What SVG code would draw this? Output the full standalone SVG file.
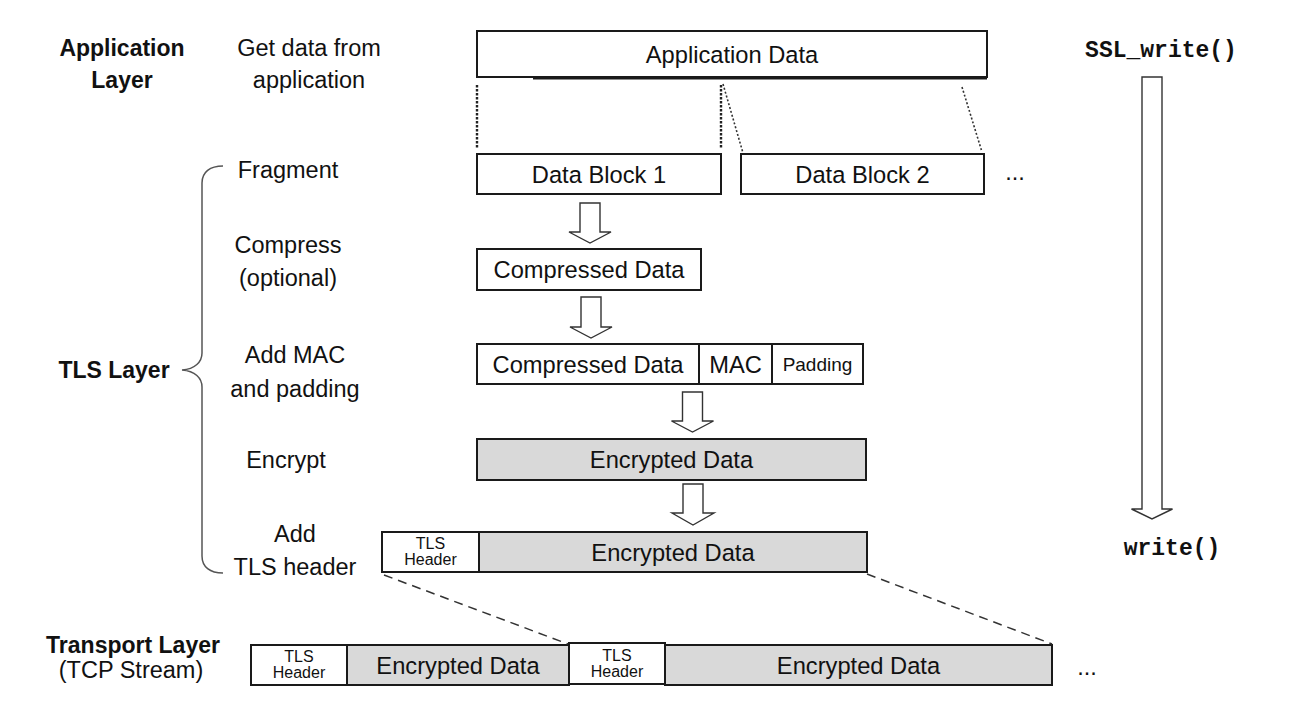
<svg xmlns="http://www.w3.org/2000/svg" width="1306" height="720" viewBox="0 0 1306 720">
<style>
.lbl{font-family:"Liberation Sans",Arial,sans-serif;font-size:23.5px;fill:#111;text-anchor:middle}
.b{font-weight:bold;font-size:23px}
.bt{font-family:"Liberation Sans",Arial,sans-serif;font-size:23.7px;fill:#111;text-anchor:middle}
.sm{font-family:"Liberation Sans",Arial,sans-serif;font-size:16px;fill:#111;text-anchor:middle}
.pad{font-size:19px}
.mono{font-family:"Liberation Mono","Courier New",monospace;font-weight:bold;font-size:23px;fill:#111;text-anchor:middle}
.box{fill:#fff;stroke:#1a1a1a;stroke-width:2}
.enc{fill:#d9d9d9;stroke:#1a1a1a;stroke-width:2}
.blk{fill:#fff;stroke:#333;stroke-width:1.4;stroke-linejoin:miter}
.dot{fill:none;stroke:#333;stroke-width:1.6;stroke-dasharray:2 2}
.dotv{fill:none;stroke:#222;stroke-width:2.4;stroke-dasharray:2.5 1.5}
.dash{fill:none;stroke:#333;stroke-width:1.5;stroke-dasharray:9 6}
.brace{fill:none;stroke:#555;stroke-width:1.5}
</style>
<g id="labels">
<text class="lbl b" x="122" y="56">Application</text>
<text class="lbl b" x="122" y="88">Layer</text>
<text class="lbl" x="309" y="56">Get data from</text>
<text class="lbl" x="309" y="88">application</text>
<text class="lbl" x="288" y="178">Fragment</text>
<text class="lbl" x="288" y="253">Compress</text>
<text class="lbl" x="288" y="286">(optional)</text>
<text class="lbl" x="295" y="363">Add MAC</text>
<text class="lbl" x="295" y="397">and padding</text>
<text class="lbl" x="286" y="468">Encrypt</text>
<text class="lbl" x="295" y="542">Add</text>
<text class="lbl" x="295" y="575">TLS header</text>
<text class="lbl b" x="114" y="378">TLS Layer</text>
<path class="brace" d="M223 166 C210 166 202 172 202 183 L202 353 C202 362 195 369 182 370 C195 371 202 378 202 387 L202 556 C202 567 210 573 223 573"/>
<text class="lbl b" x="133" y="653">Transport Layer</text>
<text class="lbl" x="131" y="678">(TCP Stream)</text>
<text class="mono" x="1161" y="57">SSL_write()</text>
<text class="mono" x="1172" y="555">write()</text>
</g>
<g id="app-data">
<rect class="box" x="477" y="31" width="510" height="46"/>
<line x1="533" y1="78.5" x2="987" y2="78.5" stroke="#1a1a1a" stroke-width="2"/>
<text class="bt" x="732" y="63">Application Data</text>
</g>
<g id="block1">
<rect class="box" x="477" y="154" width="244" height="40"/>
<text class="bt" x="599" y="183">Data Block 1</text>
</g>
<g id="block2">
<rect class="box" x="741" y="154" width="243" height="40"/>
<text class="bt" x="862.5" y="183">Data Block 2</text>
</g>
<g id="dots1"><text class="lbl" x="1015" y="180">...</text></g>
<g id="compressed">
<rect class="box" x="477" y="249" width="224" height="41"/>
<text class="bt" x="589" y="278">Compressed Data</text>
</g>
<g id="mac-row">
<rect class="box" x="477" y="344" width="222" height="40"/>
<rect class="box" x="699" y="344" width="73" height="40"/>
<rect class="box" x="772" y="344" width="91" height="40"/>
<text class="bt" x="588" y="373">Compressed Data</text>
<text class="bt" x="735.5" y="373">MAC</text>
<text class="sm pad" x="817.5" y="371">Padding</text>
</g>
<g id="encrypted">
<rect class="enc" x="477" y="439" width="389" height="41"/>
<text class="bt" x="671.5" y="468">Encrypted Data</text>
</g>
<g id="tls-record">
<rect class="box" x="382" y="532" width="97" height="40"/>
<rect class="enc" x="479" y="532" width="388" height="40"/>
<text class="sm" x="430.5" y="549">TLS</text>
<text class="sm" x="430.5" y="565">Header</text>
<text class="bt" x="673" y="561">Encrypted Data</text>
</g>
<g id="tcp-stream">
<rect class="box" x="251" y="645" width="96" height="40"/>
<rect class="enc" x="347" y="645" width="222" height="40"/>
<rect class="box" x="569" y="643" width="96" height="41"/>
<rect class="enc" x="665" y="645" width="387" height="40"/>
<text class="sm" x="299" y="662">TLS</text>
<text class="sm" x="299" y="678">Header</text>
<text class="bt" x="458" y="674">Encrypted Data</text>
<text class="sm" x="617" y="661">TLS</text>
<text class="sm" x="617" y="677">Header</text>
<text class="bt" x="858.5" y="674">Encrypted Data</text>
</g>
<g id="dots2"><text class="lbl" x="1087" y="675">...</text></g>
<g id="connectors">
<line class="dotv" x1="477" y1="85" x2="477" y2="149"/>
<line class="dotv" x1="721" y1="85" x2="721" y2="149"/>
<line class="dot" x1="723" y1="84" x2="743" y2="153"/>
<line class="dot" x1="962" y1="87" x2="982" y2="152"/>
<polygon class="blk" points="580,203 600,203 600,232 611,232 590,243 569,232 580,232"/>
<polygon class="blk" points="581,297 601,297 601,327 612,327 591,338 570,327 581,327"/>
<polygon class="blk" points="682.5,392 702.5,392 702.5,421 713.5,421 692.5,432 671.5,421 682.5,421"/>
<polygon class="blk" points="683,484 703,484 703,513 714,513 693,525 672,513 683,513"/>
<polygon class="blk" points="1142,77 1162,77 1162,509 1172.5,509 1152,519 1131.5,509 1142,509"/>
<line class="dash" x1="384" y1="575" x2="568" y2="644"/>
<line class="dash" x1="867" y1="574" x2="1052" y2="644"/>
</g>
</svg>
